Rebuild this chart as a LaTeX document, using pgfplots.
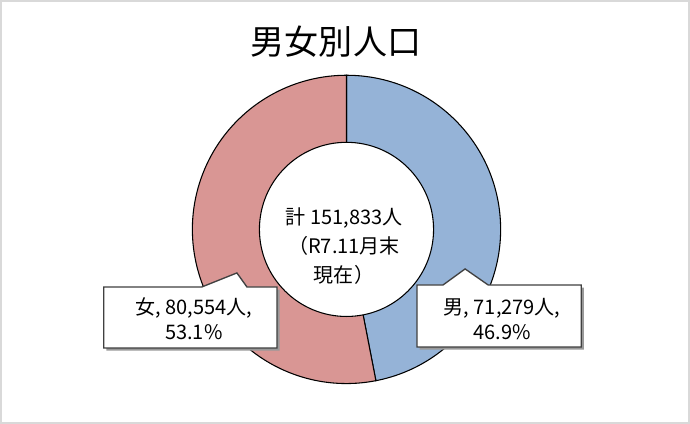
\documentclass[border=0pt]{standalone}
\usepackage{fontspec}
\usepackage{pgfplots}
\usepackage{pgfplotstable}
\pgfplotsset{compat=1.18}
\setmainfont{Noto Sans CJK JP}

\definecolor{malecol}{RGB}{149,179,215}
\definecolor{femalecol}{RGB}{217,150,148}
\definecolor{boxline}{RGB}{64,64,64}

% population at end of R7.11
\pgfplotstableread{
sex value
male 71279
female 80554
}\popdata

\begin{document}
\begin{tikzpicture}
\pgfplotstablegetelem{0}{value}\of\popdata \edef\male{\pgfplotsretval}
\pgfplotstablegetelem{1}{value}\of\popdata \edef\female{\pgfplotsretval}
\edef\angm{\fpeval{360*\male/(\male+\female)}}
\edef\mend{\fpeval{90-\angm}}
\begin{axis}[
    x=0.75pt, y=0.75pt,
    xmin=0, xmax=690, ymin=0, ymax=424,
    hide axis, clip=false]
  % outer frame
  \draw[black!15, line width=1.5pt] (1.3,1.3) rectangle (688.7,422.7);
  % title
  \node[font=\fontsize{25.5pt}{30pt}\selectfont] at (336,382) {男女別人口};
  % donut
  \coordinate (O) at (346.5,194.5);
  \filldraw[fill=malecol, draw=black, line width=0.8pt]
    (O) -- ++(90:115.5pt) arc[start angle=90, end angle=\mend, radius=115.5pt] -- cycle;
  \filldraw[fill=femalecol, draw=black, line width=0.8pt]
    (O) -- ++(\mend:115.5pt) arc[start angle=\mend, end angle=-270, radius=115.5pt] -- cycle;
  \filldraw[fill=white, draw=black, line width=0.8pt] (O) circle[radius=65.25pt];
  \node[align=center, font=\fontsize{15pt}{21.75pt}\selectfont] at (344,178)
    {計 151,833人\\（R7.11月末\\現在）};
  % callouts
  \fill[black!40, xshift=2pt, yshift=-2pt]
    (104,137) -- (202,137) -- (237,151) -- (247,137) -- (277,137) -- (277,76) -- (104,76) -- cycle;
  \filldraw[fill=white, draw=boxline, line width=1pt]
    (104,137) -- (202,137) -- (237,151) -- (247,137) -- (277,137) -- (277,76) -- (104,76) -- cycle;
  \fill[black!40, xshift=2pt, yshift=-2pt]
    (417,139) -- (443,139) -- (465,155) -- (488,139) -- (581,139) -- (581,77) -- (417,77) -- cycle;
  \filldraw[fill=white, draw=boxline, line width=1pt]
    (417,139) -- (443,139) -- (465,155) -- (488,139) -- (581,139) -- (581,77) -- (417,77) -- cycle;
  \node[align=center, font=\fontsize{15pt}{18.75pt}\selectfont] at (194,105)
    {女, 80,554人,\\53.1\%};
  \node[align=center, font=\fontsize{15pt}{18.75pt}\selectfont] at (502,105)
    {男, 71,279人,\\46.9\%};
\end{axis}
\end{tikzpicture}
\end{document}
